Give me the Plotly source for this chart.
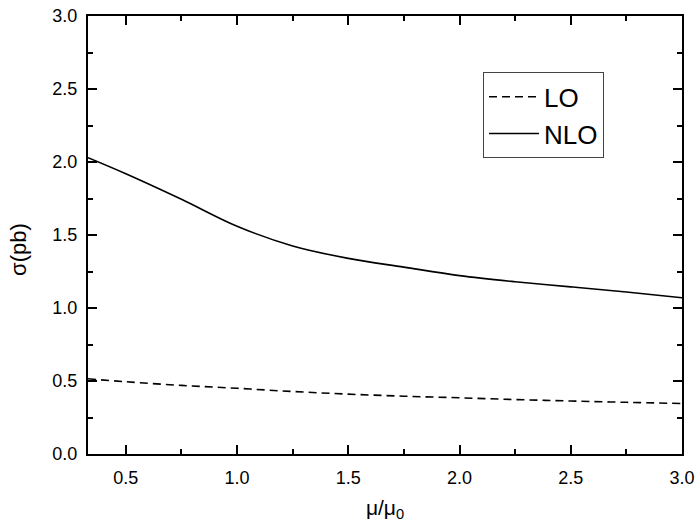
import plotly.graph_objects as go

mu = [0.33, 0.5, 0.75, 1.0, 1.25, 1.5, 1.75, 2.0, 2.25, 2.5, 2.75, 3.0]
nlo = [2.03, 1.92, 1.745, 1.56, 1.425, 1.34, 1.28, 1.222, 1.18, 1.145, 1.11, 1.07]
lo = [0.515, 0.495, 0.47, 0.45, 0.428, 0.41, 0.396, 0.385, 0.373, 0.363, 0.354, 0.346]

fig = go.Figure()
fig.add_trace(go.Scatter(x=mu, y=lo, mode="lines", name="LO", line_shape="spline",
                         line=dict(color="black", width=1.6, dash="8px,5px")))
fig.add_trace(go.Scatter(x=mu, y=nlo, mode="lines", name="NLO", line_shape="spline",
                         line=dict(color="black", width=1.6)))

font = "Liberation Sans, Arial, sans-serif"
axis_common = dict(showline=True, linecolor="black", linewidth=2, mirror="ticks",
                   ticks="inside", ticklen=9, tickwidth=1.5, tickcolor="black",
                   showgrid=False, zeroline=False, automargin=False,
                   tickfont=dict(family=font, size=18, color="black"))
minor = dict(ticks="inside", ticklen=5, tickwidth=1.5, tickcolor="black", dtick=0.25, tick0=0)
fig.update_xaxes(range=[0.33, 3.0], tickvals=[0.5, 1.0, 1.5, 2.0, 2.5, 3.0],
                 ticktext=["0.5", "1.0", "1.5", "2.0", "2.5", "3.0"],
                 minor=minor, ticklabelstandoff=6,
                 title=dict(text="μ/μ<sub>0</sub>", font=dict(family=font, size=21, color="black"), standoff=14),
                 **axis_common)
fig.update_yaxes(range=[0, 3.0], tickvals=[0, 0.5, 1.0, 1.5, 2.0, 2.5, 3.0],
                 ticktext=["0.0", "0.5", "1.0", "1.5", "2.0", "2.5", "3.0"],
                 minor=minor, ticklabelstandoff=5,
                 **axis_common)
fig.add_annotation(text="σ(pb)", textangle=-90, showarrow=False,
                   xref="paper", yref="paper", x=-0.118, y=0.468,
                   xanchor="center", yanchor="middle",
                   font=dict(family=font, size=22, color="black"))
fig.update_layout(width=698, height=522, plot_bgcolor="white", paper_bgcolor="white",
                  margin=dict(l=88, r=16, t=16, b=68, autoexpand=False),
                  showlegend=True,
                  legend=dict(x=0.665, y=0.675, xanchor="left", yanchor="bottom",
                              bordercolor="#444", borderwidth=1, bgcolor="white",
                              font=dict(family=font, size=26, color="black"),
                              itemwidth=50, tracegroupgap=0))
fig.write_html("out.html", config={"displayModeBar": False},
               post_script="document.body.style.margin='0';")
